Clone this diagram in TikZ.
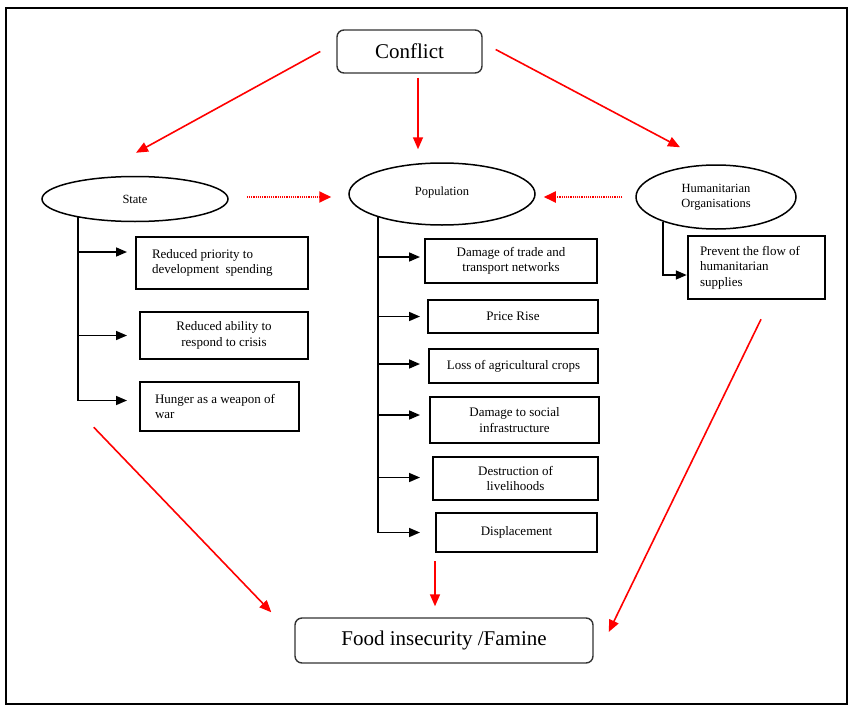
\documentclass[tikz,border=0pt]{standalone}
\usepackage{fontspec}
\setmainfont{Liberation Serif}
\usetikzlibrary{shapes.geometric,arrows.meta,calc}

\begin{document}
\begin{tikzpicture}[x=1pt, y=-1pt,
    redarr/.style={draw=red, line width=1.6pt, -{Triangle[length=12pt,width=10pt]}},
    dotarr/.style={draw=red, line width=1.8pt, dash pattern=on 1.2pt off 1pt, -{Triangle[length=12pt,width=11pt]}},
    brarr/.style={draw=black, line width=1.6pt, -{Triangle[length=11pt,width=9pt]}},
    oval/.style={ellipse, draw, line width=1.5pt, inner sep=0pt, align=center, font=\fontsize{12.5}{15}\selectfont},
    box/.style={rectangle, draw, line width=2.5pt, inner sep=0pt, align=center, font=\fontsize{13}{15.5}\selectfont},
    lbox/.style={box, align=flush left},
    mainbox/.style={rectangle, rounded corners=7pt, draw=black!80, line width=1.4pt, font=\fontsize{21}{25}\selectfont}]

    % cadre
    \useasboundingbox (0,0) rectangle (853,709);
    \draw[line width=2.2pt] (6,8) rectangle (847,704);

    % noeuds principaux
    \node[mainbox, minimum width=145pt, minimum height=43pt] (cf) at (409.5,51.5) {Conflict};
    \node[mainbox, minimum width=298pt, minimum height=45pt] (fd) at (444,640.5) {Food insecurity /Famine};

    \node[oval, minimum width=186pt, minimum height=45pt] (st) at (135,199) {State};
    \node[oval, minimum width=186pt, minimum height=62pt] (pp) at (442,194) {\raisebox{6pt}{Population}};
    \node[oval, minimum width=160pt, minimum height=64pt] (ho) at (716,197) {Humanitarian\\Organisations};

    % effets de l'Etat
    \node[lbox, text width=140pt, inner xsep=16pt, minimum height=52pt] (S1) at (222,263) {Reduced priority to\\development~ spending};
    \node[box, minimum width=168pt, minimum height=47pt] (S2) at (224,335.5) {Reduced ability to\\respond to crisis};
    \node[lbox, text width=129pt, inner xsep=15pt, minimum height=49pt] (S3) at (219.5,406.5) {Hunger as a weapon of\\war};

    % effets sur la population
    \node[box, minimum width=172pt, minimum height=44pt] (P1) at (511,261) {Damage of trade and\\transport networks};
    \node[box, minimum width=170pt, minimum height=33pt] (P2) at (513,316.5) {Price Rise};
    \node[box, minimum width=169pt, minimum height=34pt] (P3) at (513.5,366) {Loss of agricultural crops};
    \node[box, minimum width=169pt, minimum height=46pt] (P4) at (514.5,420) {Damage to social\\infrastructure};
    \node[box, minimum width=165pt, minimum height=43pt] (P5) at (515.5,478.5) {Destruction of\\livelihoods};
    \node[box, minimum width=161pt, minimum height=39pt] (P6) at (516.5,532.5) {Displacement};

    % effet humanitaire
    \node[lbox, text width=113pt, inner xsep=12pt, minimum height=63pt] (H1) at (756.5,267.5) {Prevent the flow of\\humanitarian\\supplies};

    % fleches rouges
    \draw[redarr] ($(cf.west)+(-16,0)$) -- ($(st.north)+(1,-23)$);
    \draw[redarr] ($(cf.south)+(8.5,4)$) -- ($(pp.north)+(-24,-13)$);
    \draw[redarr] ($(cf.east)+(13,-2)$) -- ($(ho.north)+(-36,-17)$);
    \draw[redarr] ($(S3.south west)+(-45,-5)$) -- ($(fd.north west)+(-23,-5)$);
    \draw[redarr] ($(fd.north)+(-9,-56)$) -- ($(fd.north)+(-9,-11)$);
    \draw[redarr] ($(H1.south)+(4.5,19)$) -- ($(fd.east)+(15,-8.5)$);

    % fleches pointillees
    \draw[dotarr] ($(st.east)+(18,-2)$) -- ($(pp.west)+(-17,3)$);
    \draw[dotarr] ($(ho.west)+(-13,0)$) -- ($(pp.east)+(8,3)$);

    % branches de l'Etat
    \coordinate (send) at (127,0);
    \coordinate (sbot) at ($(S3.west)+(0,-6)$);
    \draw[line width=1.6pt] (st.198) -- (st.198 |- sbot);
    \foreach \b/\dy in {S1/11,S2/0,S3/6}{
        \coordinate (t) at ($(\b.west)+(0,-\dy)$);
        \draw[brarr] (st.198 |- t) -- (send |- t);
    }

    % branches de la population
    \coordinate (pend) at (420,0);
    \draw[line width=1.6pt] (pp.200) -- (pp.200 |- P6.west);
    \foreach \b/\dy in {P1/4,P2/0,P3/2,P4/5,P5/1,P6/0}{
        \coordinate (t) at ($(\b.west)+(0,-\dy)$);
        \draw[brarr] (pp.200 |- t) -- (pend |- t);
    }

    % branche humanitaire
    \draw[brarr] (ho.205) |- ($(H1.west)+(0,7.5)$);
\end{tikzpicture}
\end{document}
